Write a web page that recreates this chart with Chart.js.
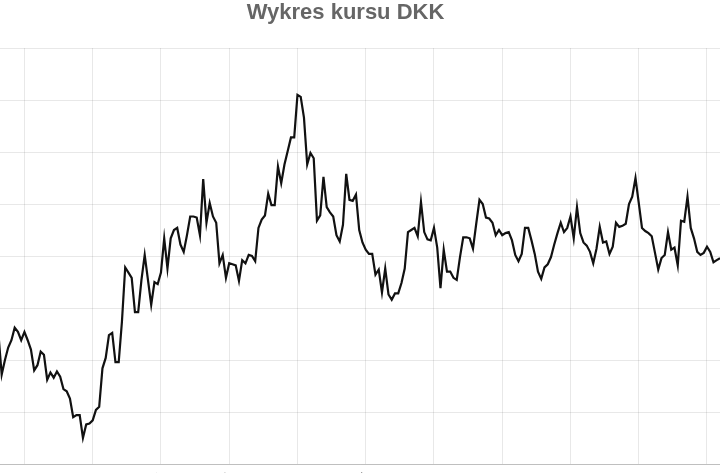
<!DOCTYPE html>
<html lang="pl">
<head>
<meta charset="utf-8">
<script src="https://cdn.jsdelivr.net/npm/chart.js@4/dist/chart.umd.min.js"></script>
<style>
  html, body { margin: 0; padding: 0; width: 720px; height: 473px; overflow: hidden; background: #fff; }
  #wrap { position: absolute; left: -29px; top: 0; width: 749px; height: 540px; }
</style>
</head>
<body>
<div id="wrap"><canvas id="c" width="749" height="540"></canvas></div>
<script>
// Dzienny kurs DKK (w PLN)
const kursDKK = [
  0.6125,
  0.6086, 0.6100, 0.6112, 0.6119, 0.6131, 0.6127, 0.6119, 0.6127, 0.6119, 0.6110,
  0.6090, 0.6095, 0.6108, 0.6105, 0.6081, 0.6088, 0.6083, 0.6089, 0.6084, 0.6072,
  0.6070, 0.6063, 0.6045, 0.6047, 0.6047, 0.6025, 0.6038, 0.6039, 0.6042, 0.6052,
  0.6055, 0.6092, 0.6102, 0.6124, 0.6126, 0.6098, 0.6098, 0.6137, 0.6189, 0.6184,
  0.6179, 0.6146, 0.6146, 0.6177, 0.6201, 0.6177, 0.6153, 0.6175, 0.6173, 0.6184,
  0.6217, 0.6188, 0.6217, 0.6225, 0.6227, 0.6211,
  0.6204, 0.6220, 0.6238, 0.6238, 0.6237, 0.6220, 0.6274, 0.6232, 0.6251, 0.6238,
  0.6232, 0.6193, 0.6201, 0.6179, 0.6193, 0.6192, 0.6191, 0.6176, 0.6196, 0.6193,
  0.6201, 0.6200, 0.6195, 0.6227, 0.6235, 0.6239, 0.6260, 0.6249, 0.6249, 0.6286,
  0.6270, 0.6288, 0.6301, 0.6314, 0.6314, 0.6355, 0.6353, 0.6333, 0.6288, 0.6299,
  0.6294, 0.6234, 0.6239, 0.6276, 0.6247, 0.6242, 0.6238, 0.6220, 0.6214, 0.6230,
  0.6279, 0.6254, 0.6253, 0.6259,
  0.6225, 0.6213, 0.6206, 0.6202, 0.6202, 0.6182, 0.6187, 0.6165, 0.6188, 0.6163,
  0.6158, 0.6164, 0.6164, 0.6174, 0.6188, 0.6223, 0.6225, 0.6227, 0.6219, 0.6252,
  0.6223, 0.6216, 0.6215, 0.6227, 0.6208, 0.6169, 0.6206, 0.6185, 0.6185, 0.6179,
  0.6177, 0.6199, 0.6218, 0.6218, 0.6217, 0.6207, 0.6231, 0.6254, 0.6250, 0.6237,
  0.6236, 0.6232, 0.6220, 0.6225, 0.6220, 0.6222, 0.6223, 0.6215, 0.6201, 0.6195,
  0.6202, 0.6227, 0.6227, 0.6215, 0.6202, 0.6185, 0.6178,
  0.6189, 0.6192, 0.6199, 0.6211, 0.6222, 0.6232, 0.6223, 0.6227, 0.6238, 0.6217,
  0.6247, 0.6222, 0.6213, 0.6210, 0.6204, 0.6193, 0.6207, 0.6228, 0.6213, 0.6214,
  0.6202, 0.6209, 0.6232, 0.6228, 0.6229, 0.6231, 0.6250, 0.6257, 0.6275, 0.6251,
  0.6227, 0.6224, 0.6222, 0.6219, 0.6203, 0.6187, 0.6198, 0.6201, 0.6223, 0.6206,
  0.6208, 0.6191, 0.6234, 0.6233, 0.6257, 0.6227, 0.6217, 0.6204, 0.6201, 0.6203,
  0.6209, 0.6204, 0.6194, 0.6196, 0.6198
];

// Indeksy notowań rozpoczynających kolejne miesiące i ich etykiety
const poczatkiMiesiecy = [8, 29, 50, 71, 92, 113, 134, 155, 176, 197, 218];
const etykietyMiesiecy = ['2022-02', '2022-03', '2022-04', '2022-05', '2022-06', '2022-07',
                          '2022-08', '2022-09', '2022-10', '2022-11', '2022-12'];

// Oś wartości
const osY = { min: 0.600, max: 0.640, krok: 0.005 };

const punkty = kursDKK.map((v, i) => ({ x: i, y: v }));

new Chart(document.getElementById('c'), {
  type: 'line',
  data: {
    datasets: [{
      label: 'DKK',
      data: punkty,
      borderColor: '#111111',
      borderWidth: 2.2,
      pointRadius: 0,
      pointHoverRadius: 0,
      tension: 0,
      fill: false
    }]
  },
  options: {
    responsive: false,
    animation: false,
    devicePixelRatio: 1,
    layout: { padding: 0 },
    plugins: {
      legend: { display: false },
      tooltip: { enabled: false },
      title: {
        display: true,
        text: 'Wykres kursu DKK',
        color: '#666666',
        font: { family: "'Liberation Sans', Arial, sans-serif", size: 22, weight: 'bold', lineHeight: 1.2 },
        padding: { top: 0, bottom: 21.6 }
      }
    },
    scales: {
      x: {
        type: 'linear',
        min: 0.48,
        max: 222,
        afterBuildTicks: (s) => { s.ticks = poczatkiMiesiecy.map(v => ({ value: v })); },
        afterFit: (s) => { s.height = 76; s.paddingLeft = 0; s.paddingRight = 0; },
        grid: { color: 'rgba(0,0,0,0.09)', drawTicks: false },
        border: { color: 'rgba(0,0,0,0.18)' },
        ticks: {
          color: '#444',
          padding: 6,
          maxRotation: 45,
          minRotation: 45,
          autoSkip: false,
          font: { family: "'Liberation Sans', Arial, sans-serif", size: 12 },
          callback: (v) => {
            const k = poczatkiMiesiecy.indexOf(v);
            return k >= 0 ? etykietyMiesiecy[k] : '';
          }
        }
      },
      y: {
        min: osY.min,
        max: osY.max,
        afterFit: (s) => { s.width = 29; },
        grid: { color: 'rgba(0,0,0,0.09)' },
        border: { display: false },
        ticks: {
          stepSize: osY.krok,
          color: '#444',
          font: { family: "'Liberation Sans', Arial, sans-serif", size: 12 },
          callback: (v) => v.toFixed(3).replace('.', ',')
        }
      }
    }
  }
});
</script>
</body>
</html>
